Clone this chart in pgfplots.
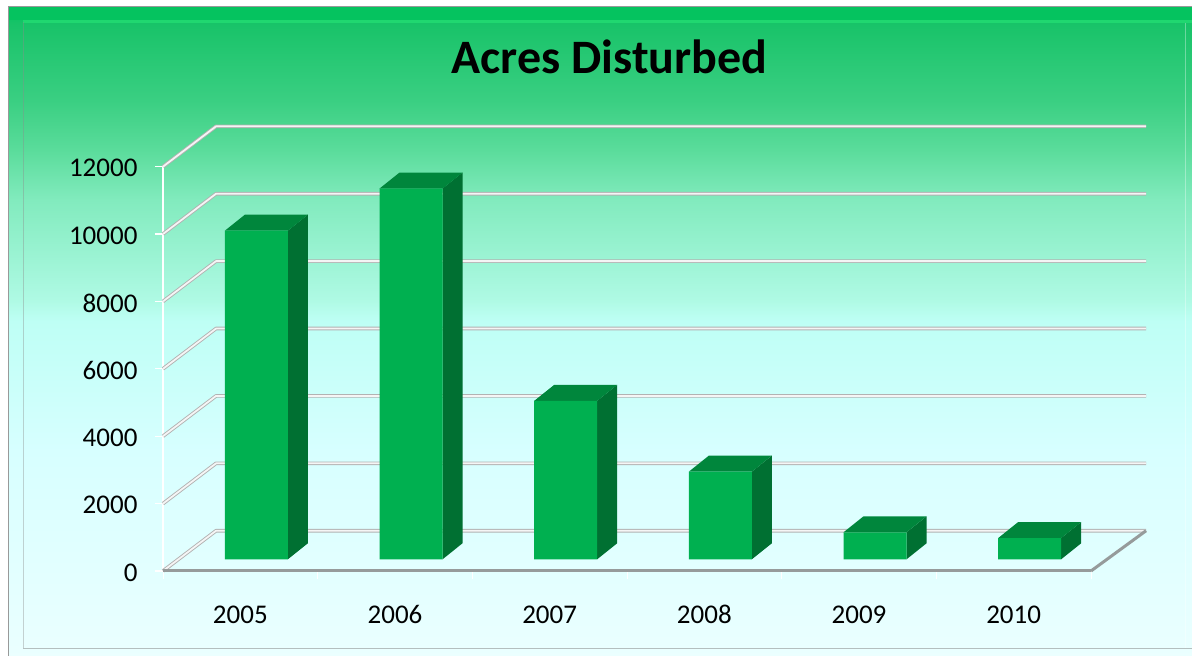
\documentclass[border=0pt]{standalone}
\usepackage{pgfplots}
\pgfplotsset{compat=1.18}
\usepackage{fontspec}
\setmainfont{Carlito}
\definecolor{barfront}{RGB}{0,176,80}
\definecolor{bartop}{RGB}{0,134,60}
\definecolor{barside}{RGB}{0,112,50}
\definecolor{floorgrey}{RGB}{150,155,155}
\definecolor{bandgreen}{RGB}{5,195,95}
\definecolor{bandlight}{RGB}{32,215,112}
\definecolor{bgA}{RGB}{235,255,255}
\definecolor{bgB}{RGB}{233,255,255}
\definecolor{bgC}{RGB}{215,255,255}
\definecolor{bgD}{RGB}{190,255,245}
\definecolor{bgE}{RGB}{175,250,228}
\definecolor{bgF}{RGB}{130,235,190}
\definecolor{bgG}{RGB}{90,220,155}
\definecolor{bgH}{RGB}{58,207,130}
\definecolor{bgI}{RGB}{25,195,105}
\pgfdeclareverticalshading{panelbg}{100bp}{
 color(0bp)=(bgA);
 color(25bp)=(bgA);
 color(26.1bp)=(bgB);
 color(40.8bp)=(bgC);
 color(50.8bp)=(bgD);
 color(52.4bp)=(bgE);
 color(60.1bp)=(bgF);
 color(64bp)=(bgG);
 color(67.8bp)=(bgH);
 color(73.6bp)=(bgI);
 color(75bp)=(bandgreen);
 color(100bp)=(bandgreen)}
\begin{document}
\begin{tikzpicture}[x=1pt,y=1pt]
\path[use as bounding box] (0,0) rectangle (1192,656);
\shade[shading=panelbg] (8,0) rectangle (1192,649);
% panel frame
\fill[bandgreen] (8,636) rectangle (1192,649);
\fill[bandlight] (23,633) rectangle (1192,636);
\draw[gray!80,line width=1pt] (8.5,0) -- (8.5,649) -- (1192,649);
\draw[black!45,opacity=.4,line width=1.5pt] (23.5,8) -- (23.5,634);
\draw[black!50,opacity=.5,line width=1.5pt] (23,7.5) -- (1192,7.5);
\draw[white,opacity=.35,line width=1pt] (1185,8) -- (1185,633);
% walls, grid, labelled axis
\begin{axis}[
  at={(163pt,85pt)}, anchor=south west,
  scale only axis, width=928pt, height=404.4pt,
  xmin=-0.5, xmax=5.5, ymin=0, ymax=12000,
  clip=false,
  axis lines=left, axis line style={-},
  x axis line style={draw=floorgrey,line width=3pt},
  y axis line style={draw=white,line width=1.4pt},
  xtick={0,1,2,3,4,5}, xticklabels={2005,2006,2007,2008,2009,2010},
  minor xtick={-0.5,0.5,1.5,2.5,3.5,4.5,5.5},
  major x tick style={draw=none},
  minor x tick style={color=white,line width=1pt},
  minor tick length=8pt,
  ytick={0,2000,4000,6000,8000,10000,12000},
  y tick style={color=white,line width=1.2pt},
  major tick length=8pt,
  tick align=outside,
  scaled y ticks=false,
  /pgf/number format/assume math mode=true,
  /pgf/number format/.cd,set thousands separator={},
  /pgfplots/.cd,
  tick label style={font=\fontsize{27}{32}\selectfont,text=black},
  xticklabel style={yshift=-23pt,text height=18pt,text depth=0pt},
  yticklabel style={xshift=-14pt,yshift=-1.5pt},
  title={Acres Disturbed},
  title style={font=\fontsize{48}{56}\selectfont\bfseries,text=black,
     at={(axis description cs:0.4811,1)},anchor=base,yshift=87pt},
]
\pgfplotsset{every axis plot/.style={no markers,line join=round}}
\addplot[draw=gray!60,line width=.9pt,double=white!92!gray,double distance=1.8pt] coordinates {(-0.5,12000) (-0.157,13195) (5.856,13195)};
\addplot[draw=gray!60,line width=.9pt,double=white!92!gray,double distance=1.8pt] coordinates {(-0.5,10000) (-0.157,11195) (5.856,11195)};
\addplot[draw=gray!60,line width=.9pt,double=white!92!gray,double distance=1.8pt] coordinates {(-0.5,8000) (-0.157,9195) (5.856,9195)};
\addplot[draw=gray!60,line width=.9pt,double=white!92!gray,double distance=1.8pt] coordinates {(-0.5,6000) (-0.157,7195) (5.856,7195)};
\addplot[draw=gray!60,line width=.9pt,double=white!92!gray,double distance=1.8pt] coordinates {(-0.5,4000) (-0.157,5195) (5.856,5195)};
\addplot[draw=gray!60,line width=.9pt,double=white!92!gray,double distance=1.8pt] coordinates {(-0.5,2000) (-0.157,3195) (5.856,3195)};
\addplot[draw=gray!60,line width=.9pt,double=white!92!gray,double distance=1.8pt] coordinates {(-0.5,0) (-0.157,1195) (5.856,1195)};
\addplot[draw=floorgrey,line width=3pt] coordinates {(5.5,0) (5.856,1195)};
\addplot[draw=floorgrey,line width=3pt] coordinates {(-0.5,0) (5.5,0)};
\end{axis}
% bars, on the plane set back from the front axis
\begin{axis}[
  at={(179pt,96.7pt)}, anchor=south west,
  scale only axis, width=928pt, height=404.4pt,
  xmin=-0.5, xmax=5.5, ymin=0, ymax=12000,
  clip=false, axis lines=none,
]
\pgfplotsset{every axis plot/.style={no markers,line join=round}}
% side faces
\addplot[fill=barside,draw=none] coordinates {(0.2037,0) (0.3330,475) (0.3330,10225) (0.2037,9750)} --cycle;
\addplot[fill=barside,draw=none] coordinates {(1.2037,0) (1.3330,475) (1.3330,11475) (1.2037,11000)} --cycle;
\addplot[fill=barside,draw=none] coordinates {(2.2037,0) (2.3330,475) (2.3330,5175) (2.2037,4700)} --cycle;
\addplot[fill=barside,draw=none] coordinates {(3.2037,0) (3.3330,475) (3.3330,3075) (3.2037,2600)} --cycle;
\addplot[fill=barside,draw=none] coordinates {(4.2037,0) (4.3330,475) (4.3330,1275) (4.2037,800)} --cycle;
\addplot[fill=barside,draw=none] coordinates {(5.2037,0) (5.3330,475) (5.3330,1105) (5.2037,630)} --cycle;
% top faces
\addplot[fill=bartop,draw=none] coordinates {(-0.2037,9750) (0.2037,9750) (0.3330,10225) (-0.0744,10225)} --cycle;
\addplot[fill=bartop,draw=none] coordinates {(0.7963,11000) (1.2037,11000) (1.3330,11475) (0.9256,11475)} --cycle;
\addplot[fill=bartop,draw=none] coordinates {(1.7963,4700) (2.2037,4700) (2.3330,5175) (1.9256,5175)} --cycle;
\addplot[fill=bartop,draw=none] coordinates {(2.7963,2600) (3.2037,2600) (3.3330,3075) (2.9256,3075)} --cycle;
\addplot[fill=bartop,draw=none] coordinates {(3.7963,800) (4.2037,800) (4.3330,1275) (3.9256,1275)} --cycle;
\addplot[fill=bartop,draw=none] coordinates {(4.7963,630) (5.2037,630) (5.3330,1105) (4.9256,1105)} --cycle;
% front faces
\addplot[ybar,bar width=63pt,fill=barfront,draw=none] coordinates {(0,9750) (1,11000) (2,4700) (3,2600) (4,800) (5,630)};
\end{axis}
\end{tikzpicture}
\end{document}
